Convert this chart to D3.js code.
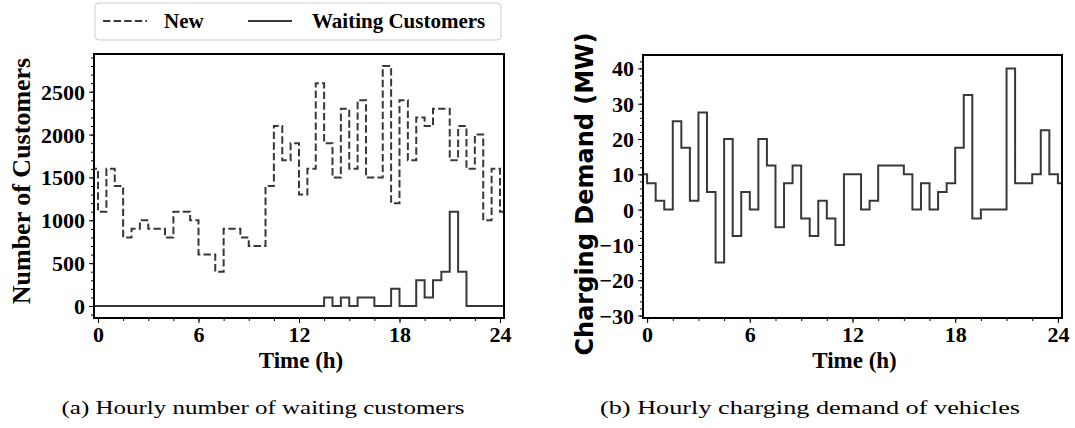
<!DOCTYPE html>
<html>
<head>
<meta charset="utf-8">
<script src="https://cdn.jsdelivr.net/npm/d3@7"></script>
<style>
  body { margin: 0; background: #fff; }
  svg { display: block; }
</style>
</head>
<body>
<script>
// half-hour intervals [0,0.5), [0.5,1) ... [23.5,24)
var newCustomers = [1100,1600,1400,800,900,1000,900,900,800,1100,1100,1000,
                    600,600,400,900,900,800,700,700,1400,2100,1700,1900,
                    1300,1600,2600,1900,1500,2300,1600,2400,1500,1500,2800,1200,
                    2400,1700,2200,2100,2300,2300,1700,2100,1600,2000,1000,1600];
var waitingCustomers = [0,0,0,0,0,0,0,0,0,0,0,0,
                        0,0,0,0,0,0,0,0,0,0,0,0,
                        0,0,0,100,0,100,0,100,100,0,0,200,
                        0,0,300,100,300,400,1100,400,0,0,0,0];
var chargingDemand = [7.5,2.5,0,25,17.5,2.5,27.5,5,-15,20,-7.5,5,
                      0,20,12.5,-5,7.5,12.5,-2.5,-7.5,2.5,-2.5,-10,10,
                      10,0,2.5,12.5,12.5,12.5,10,0,7.5,0,5,7.5,
                      17.5,32.5,-2.5,0,0,0,40,7.5,7.5,10,22.5,10];
var xTicks = [0, 6, 12, 18, 24];
var yTicksA = [0, 500, 1000, 1500, 2000, 2500];
var yTicksB = [-30, -20, -10, 0, 10, 20, 30, 40];

var W = 1075, H = 428;
var svg = d3.select("body").append("svg").attr("width", W).attr("height", H);
var serif = "'Liberation Serif', 'Times New Roman', serif";

// periodic day: add wrap-around points so the step runs past both edges
function stepPoints(vals) {
  var pts = [{x: -0.5, y: vals[vals.length - 1]}];
  vals.forEach(function(v, i) { pts.push({x: i * 0.5, y: v}); });
  pts.push({x: 24, y: vals[0]});
  pts.push({x: 24.5, y: vals[0]});
  return pts;
}

function panel(opt) {
  var x = d3.scaleLinear().domain([-0.24, 24.24]).range([opt.left, opt.right]);
  var y = d3.scaleLinear().domain(opt.ydom).range([opt.bottom, opt.top]);
  var g = svg.append("g");

  g.append("clipPath").attr("id", opt.id)
   .append("rect").attr("x", opt.left).attr("y", opt.top)
   .attr("width", opt.right - opt.left).attr("height", opt.bottom - opt.top);

  var line = d3.line().curve(d3.curveStepAfter)
    .x(function(d) { return x(d.x); })
    .y(function(d) { return y(d.y); });

  opt.series.forEach(function(s) {
    g.append("path").datum(stepPoints(s.values))
     .attr("clip-path", "url(#" + opt.id + ")")
     .attr("d", line)
     .attr("fill", "none")
     .attr("stroke", "#383838")
     .attr("stroke-width", 2)
     .attr("stroke-dasharray", s.dash || null);
  });

  // minor ticks
  g.append("g").attr("transform", "translate(0," + opt.bottom + ")")
   .call(d3.axisBottom(x).tickValues(d3.range(0, 24.01, 1.5)).tickSize(3).tickFormat(""))
   .call(styleAxis);
  g.append("g").attr("transform", "translate(" + opt.left + ",0)")
   .call(d3.axisLeft(y).tickValues(opt.yminor).tickSize(3).tickFormat(""))
   .call(styleAxis);

  // major ticks
  var ax = g.append("g").attr("transform", "translate(0," + opt.bottom + ")")
   .call(d3.axisBottom(x).tickValues(xTicks).tickSize(5).tickPadding(3))
   .call(styleAxis);
  var ay = g.append("g").attr("transform", "translate(" + opt.left + ",0)")
   .call(d3.axisLeft(y).tickValues(opt.yticks).tickSize(5).tickPadding(4)
         .tickFormat(function(d) { return d < 0 ? "\u2212" + Math.abs(d) : d; }))
   .call(styleAxis);
  [ax, ay].forEach(function(a) {
    a.selectAll("text").attr("font-family", serif).attr("font-weight", "bold")
     .attr("font-size", 22).attr("fill", "#000");
  });
  ay.selectAll("text").attr("dy", "0.34em");

  // frame
  g.append("rect").attr("x", opt.left).attr("y", opt.top)
   .attr("width", opt.right - opt.left).attr("height", opt.bottom - opt.top)
   .attr("fill", "none").attr("stroke", "#000").attr("stroke-width", 2);

  g.append("text").attr("x", (opt.left + opt.right) / 2 + 2).attr("y", 368)
   .attr("text-anchor", "middle").attr("font-family", serif).attr("font-weight", "bold")
   .attr("font-size", 23).text("Time (h)");

  g.append("text")
   .attr("transform", "translate(" + opt.ylabX + "," + opt.ylabY + ") rotate(-90)")
   .attr("text-anchor", "middle").attr("font-family", opt.ylabFont).attr("font-weight", "bold")
   .attr("font-size", opt.ylabSize).text(opt.ylab);

  g.append("text").attr("x", opt.capX).attr("y", 414)
   .attr("text-anchor", "middle").attr("font-family", serif).attr("font-size", 19)
   .attr("textLength", opt.capW).attr("lengthAdjust", "spacingAndGlyphs")
   .text(opt.caption);
}

function styleAxis(a) {
  a.select(".domain").remove();
  a.selectAll("line").attr("stroke", "#000").attr("stroke-width", 1);
}

panel({
  id: "clipA", left: 94, right: 504, top: 54, bottom: 318,
  ydom: [-140, 2940], yticks: yTicksA, yminor: d3.range(-100, 2901, 100),
  series: [{values: newCustomers, dash: "7.4,3.2"}, {values: waitingCustomers}],
  ylab: "Number of Customers", ylabX: 30, ylabY: 181, ylabFont: serif, ylabSize: 26,
  caption: "(a) Hourly number of waiting customers", capX: 263, capW: 403
});

panel({
  id: "clipB", left: 643, right: 1062, top: 55, bottom: 318,
  ydom: [-30.7, 43.8], yticks: yTicksB, yminor: d3.range(-30, 43, 2),
  series: [{values: chargingDemand}],
  ylab: "Charging Demand (MW)", ylabX: 593, ylabY: 194,
  ylabFont: "'DejaVu Sans', sans-serif", ylabSize: 24,
  caption: "(b) Hourly charging demand of vehicles", capX: 810, capW: 420
});

// legend
var leg = svg.append("g");
leg.append("rect").attr("x", 95).attr("y", 3).attr("width", 406).attr("height", 37)
   .attr("rx", 4).attr("fill", "#fff").attr("stroke", "#ccc").attr("stroke-width", 1);
var legItems = [
  {label: "New", dash: "7.4,3.2", x0: 103, tx: 164},
  {label: "Waiting Customers", dash: null, x0: 248, tx: 312}
];
legItems.forEach(function(d) {
  leg.append("line").attr("x1", d.x0).attr("x2", d.x0 + 44).attr("y1", 21).attr("y2", 21)
     .attr("stroke", "#383838").attr("stroke-width", 2).attr("stroke-dasharray", d.dash);
  leg.append("text").attr("x", d.tx).attr("y", 28).attr("font-family", serif)
     .attr("font-weight", "bold").attr("font-size", 21).text(d.label);
});
</script>
</body>
</html>
